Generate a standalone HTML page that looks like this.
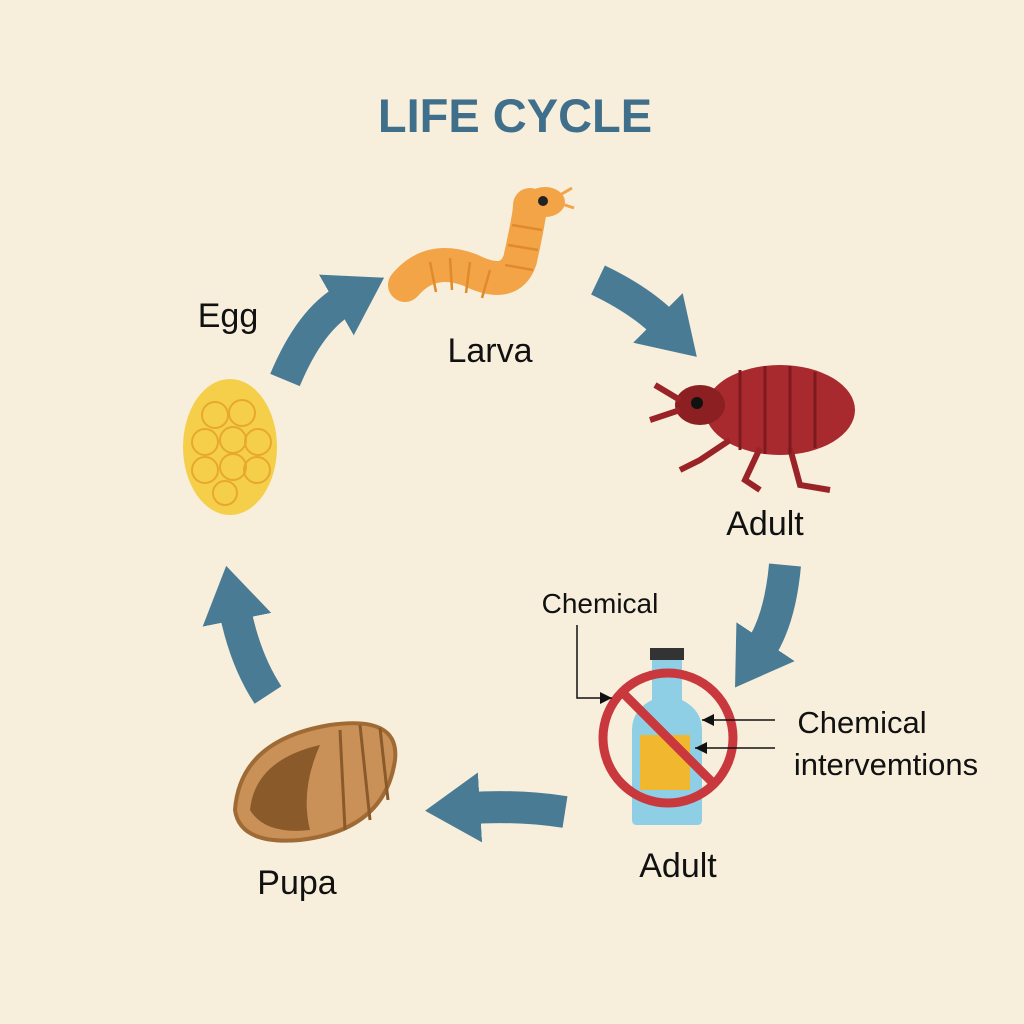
<!DOCTYPE html>
<html><head><meta charset="utf-8"><style>
html,body{margin:0;padding:0;background:#f7efdc;}
svg{display:block}
text{font-family:"Liberation Sans",sans-serif;fill:#111;}
</style></head><body>
<svg width="1024" height="1024" viewBox="0 0 1024 1024" xmlns="http://www.w3.org/2000/svg">
<defs>
<marker id="ah" markerUnits="userSpaceOnUse" markerWidth="80" markerHeight="80" refX="10" refY="40" orient="auto">
<polygon points="0,5 55,40 0,75" fill="#4a7b95"/>
</marker>
<marker id="sm" markerUnits="userSpaceOnUse" markerWidth="14" markerHeight="12" refX="12" refY="6" orient="auto">
<polygon points="0,0 12,6 0,12" fill="#111"/>
</marker>
</defs>
<rect width="1024" height="1024" fill="#f7efdc"/>
<text x="515" y="132" text-anchor="middle" font-size="47" font-weight="bold" style="fill:#3f6f8a">LIFE CYCLE</text>

<g fill="none" stroke="#4a7b95" stroke-width="32">
<path d="M285,380 Q310,320 345,300" marker-end="url(#ah)"/>
<path d="M598,280 Q640,300 665,325" marker-end="url(#ah)"/>
<path d="M785,565 Q780,620 760,650" marker-end="url(#ah)"/>
<path d="M565,812 Q520,805 470,808" marker-end="url(#ah)"/>
<path d="M268,695 Q245,660 235,610" marker-end="url(#ah)"/>
</g>

<!-- egg -->
<ellipse cx="230" cy="447" rx="47" ry="68" fill="#f6cf4a"/>
<g fill="none" stroke="#e7a830" stroke-width="2">
<circle cx="215" cy="415" r="13"/><circle cx="242" cy="413" r="13"/>
<circle cx="205" cy="442" r="13"/><circle cx="233" cy="440" r="13"/><circle cx="258" cy="442" r="13"/>
<circle cx="205" cy="470" r="13"/><circle cx="233" cy="467" r="13"/><circle cx="257" cy="470" r="13"/>
<circle cx="225" cy="493" r="12"/>
</g>

<!-- larva -->
<path d="M405,285 Q430,255 470,270 Q510,290 520,260 Q530,215 530,205" fill="none" stroke="#f2a447" stroke-width="34" stroke-linecap="round"/>
<g stroke="#e08a2c" stroke-width="2.5">
<line x1="430" y1="262" x2="436" y2="292"/><line x1="450" y1="258" x2="452" y2="290"/><line x1="470" y1="262" x2="466" y2="293"/>
<line x1="490" y1="270" x2="482" y2="298"/><line x1="505" y1="265" x2="533" y2="270"/><line x1="508" y1="245" x2="538" y2="250"/><line x1="512" y1="225" x2="542" y2="230"/>
</g>
<ellipse cx="545" cy="202" rx="20" ry="15" fill="#f2a447"/>
<circle cx="543" cy="201" r="5" fill="#222"/>
<path d="M560,195 L572,188 M562,204 L574,208" stroke="#f2a447" stroke-width="3"/>

<!-- flea -->
<ellipse cx="780" cy="410" rx="75" ry="45" fill="#a82a2e"/>
<ellipse cx="700" cy="405" rx="25" ry="20" fill="#8c1f22"/>
<circle cx="697" cy="403" r="6" fill="#111"/>
<g stroke="#9a2327" stroke-width="6" fill="none">
<path d="M730,440 L700,460 L680,470"/><path d="M760,448 L745,480 L760,490"/><path d="M790,448 L800,485 L830,490"/>
<path d="M680,400 L655,385"/><path d="M680,410 L650,420"/>
</g>
<g stroke="#7c1a1d" stroke-width="3"><line x1="740" y1="370" x2="740" y2="450"/><line x1="765" y1="366" x2="765" y2="454"/><line x1="790" y1="366" x2="790" y2="454"/><line x1="815" y1="372" x2="815" y2="448"/></g>

<!-- bottle -->
<rect x="650" y="648" width="34" height="12" fill="#333"/>
<path d="M652,660 h30 v40 q20,10 20,30 v90 q0,5 -5,5 h-60 q-5,0 -5,-5 v-90 q0,-20 20,-30z" fill="#8fcfe6"/>
<rect x="640" y="735" width="50" height="55" fill="#f1b72f"/>
<circle cx="668" cy="738" r="65" fill="none" stroke="#c8383c" stroke-width="9"/>
<line x1="622" y1="692" x2="714" y2="784" stroke="#c8383c" stroke-width="9"/>

<!-- pupa -->
<path d="M235,810 Q240,740 330,725 Q400,715 395,760 Q385,830 300,840 Q240,845 235,810z" fill="#c99157" stroke="#a06a35" stroke-width="4"/>
<path d="M250,810 Q255,760 320,745 Q300,790 310,830 Q265,835 250,810z" fill="#8a5a2b"/>
<g stroke="#8a5a2b" stroke-width="3"><line x1="340" y1="730" x2="345" y2="830"/><line x1="360" y1="725" x2="370" y2="820"/><line x1="380" y1="728" x2="388" y2="800"/></g>

<text x="228" y="327" text-anchor="middle" font-size="34">Egg</text>
<text x="490" y="362" text-anchor="middle" font-size="34">Larva</text>
<text x="765" y="535" text-anchor="middle" font-size="34">Adult</text>
<text x="600" y="613" text-anchor="middle" font-size="28">Chemical</text>
<text x="862" y="733" text-anchor="middle" font-size="31">Chemical</text>
<text x="886" y="775" text-anchor="middle" font-size="31">intervemtions</text>
<text x="678" y="877" text-anchor="middle" font-size="34">Adult</text>
<text x="297" y="894" text-anchor="middle" font-size="34">Pupa</text>

<g stroke="#111" stroke-width="1.5" fill="none">
<path d="M577,625 V698 H612" marker-end="url(#sm)"/>
<path d="M775,720 H702" marker-end="url(#sm)"/>
<path d="M775,748 H695" marker-end="url(#sm)"/>
</g>
</svg>
</body></html>
